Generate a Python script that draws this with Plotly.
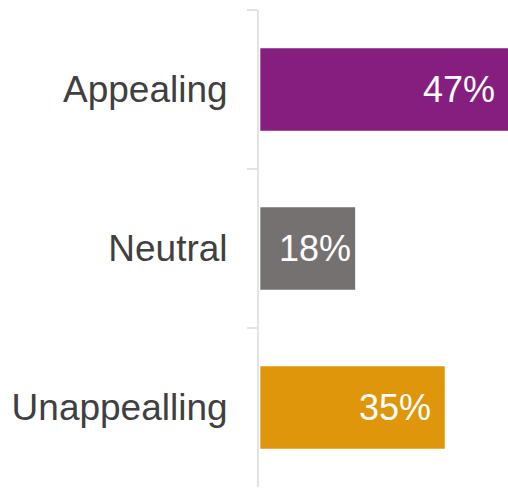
import plotly.graph_objects as go

categories = ["Appealing", "Neutral", "Unappealling"]
values = [47, 18, 35]
labels = ["47%", "18%", "35%"]
colors = ["#851E7F", "#767171", "#E0960A"]
label_shift = [-11, -2, -12]

fig = go.Figure(go.Bar(
    x=values, y=categories, orientation="h",
    marker=dict(color=colors, line=dict(width=0)),
    hoverinfo="skip",
))

for c, v, t, s in zip(categories, values, labels, label_shift):
    fig.add_annotation(x=v, y=c, text=t, showarrow=False, xanchor="right",
                       xshift=s, font=dict(family="Liberation Sans, Arial", size=36, color="white"))

fig.update_layout(
    width=508, height=488,
    margin=dict(l=259, r=0, t=10, b=1, autoexpand=False),
    paper_bgcolor="white", plot_bgcolor="white",
    bargap=0.48, showlegend=False,
    font=dict(family="Liberation Sans, Arial", size=36, color="#404040"),
)
fig.update_xaxes(range=[-0.25, 47], visible=False, showgrid=False, zeroline=False,
                 fixedrange=True, automargin=False)
fig.update_yaxes(
    categoryorder="array", categoryarray=categories, autorange="reversed",
    showline=True, linecolor="#E3E3E3", linewidth=2, automargin=False,
    ticks="outside", tickson="boundaries", ticklen=10, tickcolor="#E3E3E3", tickwidth=2,
    showgrid=False, zeroline=False, ticklabelstandoff=22,
    tickfont=dict(family="Liberation Sans, Arial", size=37, color="#404040"),
)
fig.write_html("out.html", config={"displayModeBar": False},
               post_script="document.body.style.margin='0';document.body.style.padding='0';")
